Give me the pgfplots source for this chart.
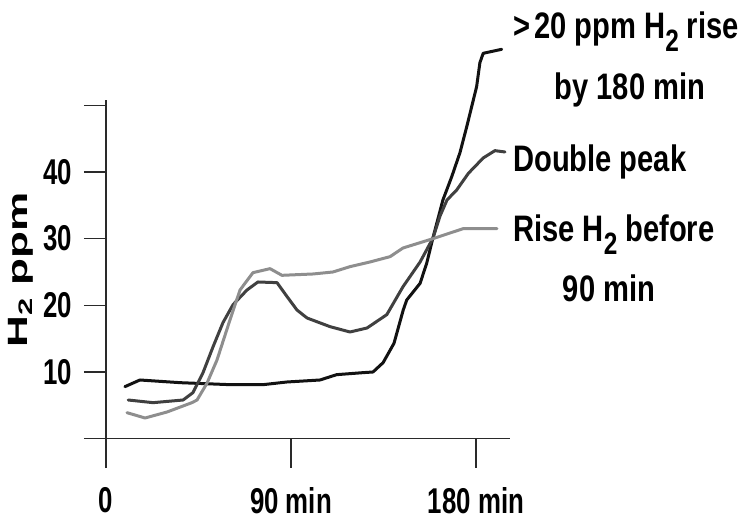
\documentclass[border=0pt]{standalone}
\usepackage{fontspec}
\usepackage{pgfplots}
\pgfplotsset{compat=1.18}
\setmainfont{Liberation Sans}
\newfontfamily\tickfont{Liberation Sans Bold}[FakeStretch=0.72]
\newfontfamily\labfont{Liberation Sans Bold}[FakeStretch=0.79]
\newfontfamily\ylabfont{Liberation Sans Bold}[FakeStretch=1.58]

\definecolor{lineA}{HTML}{121212}
\definecolor{lineB}{HTML}{404040}
\definecolor{lineC}{HTML}{8E8E8E}
\definecolor{axisgray}{HTML}{2A2A2A}

% subscript 2 as it is set in the figure: large and well below the line
\newcommand{\subtwo}{\raisebox{-13bp}{\fontsize{31}{31}\selectfont 2}}

\begin{document}
\begin{tikzpicture}
\begin{axis}[
    at={(0,0)}, anchor=south west,
    x=2.0556bp, y=6.667bp,
    xmin=-10.7, xmax=196.5,
    ymin=-4.4, ymax=50.8,
    axis lines=middle,
    axis line style={-, line width=1.6bp, color=axisgray},
    hide obscured x ticks=false,
    hide obscured y ticks=false,
    xtick={0,90,180},
    xticklabels={0,90 min,180 min},
    ytick={10,20,30,40,50},
    yticklabels={10,20,30,40,{}},
    tick align=outside,
    major tick length=22bp,
    tick style={line width=1.6bp, color=axisgray},
    xtick style={draw=none},
    xticklabel style={font=\tickfont\fontsize{36}{36}\selectfont, anchor=north, inner sep=0pt},
    yticklabel style={font=\tickfont\fontsize{36}{36}\selectfont, anchor=east, inner sep=0pt},
    xticklabel shift=27bp,
    yticklabel shift=12bp,
    ylabel={H\textsubscript{2} ppm},
    ylabel style={at={(axis cs:-38.2,25.3)}, anchor=base, rotate=90, inner sep=0pt,
        font=\ylabfont\fontsize{28}{28}\selectfont},
    clip=false,
    every axis plot/.append style={line width=3bp, line join=round, line cap=round},
]
% x ticks below the axis at 90 and 180 min
\draw[line width=1.6bp, axisgray] (axis cs:90,0) -- (axis cs:90,-4.4);
\draw[line width=1.6bp, axisgray] (axis cs:180,0) -- (axis cs:180,-4.4);

% > 20 ppm H2 rise by 180 min
\addplot[lineA] coordinates {
    (9.2,7.8) (16.5,8.8) (36.0,8.4) (60.3,8.1) (76.4,8.1) (88.0,8.5)
    (104.1,8.8) (112.2,9.6) (125.0,9.9) (129.9,10.0) (134.8,11.4)
    (140.1,14.3) (144.6,19.3) (146.3,20.8) (152.8,23.3) (156.0,26.3)
    (159.2,30.3) (163.9,35.8) (168.2,39.3) (172.2,42.9) (175.5,46.8)
    (177.9,49.8) (180.3,52.8) (181.9,56.4) (183.5,57.8) (192.5,58.4)
};
% double peak
\addplot[lineB] coordinates {
    (10.8,5.8) (22.9,5.4) (37.5,5.8) (42.3,6.9) (47.2,9.9) (52.1,13.8)
    (56.9,17.4) (61.8,20.1) (68.6,22.3) (73.9,23.5) (83.2,23.4) (88.1,21.3)
    (92.9,19.3) (97.8,18.1) (109.0,16.8) (118.7,16.0) (127.0,16.6)
    (136.6,18.6) (144.5,22.8) (152.8,26.5) (159.1,30.1) (162.5,33.4)
    (165.9,35.8) (170.6,37.3) (176.3,39.8) (183.5,42.1) (189.2,43.2)
    (194.1,43.0)
};
% rise H2 before 90 min
\addplot[lineC] coordinates {
    (10.2,3.9) (19.0,3.1) (29.7,4.0) (41.8,5.4) (44.3,5.8) (49.1,8.3)
    (54.0,11.8) (60.3,17.8) (65.2,22.3) (71.5,24.9) (79.8,25.5) (85.6,24.5)
    (100.7,24.7) (110.4,25.0) (118.7,25.8) (128.4,26.5) (138.2,27.3)
    (144.5,28.6) (159.1,30.0) (173.7,31.5) (190.2,31.5)
};
\end{axis}

\begin{scope}[every node/.style={inner sep=0pt, font=\labfont\fontsize{37}{37}\selectfont}]
\node[anchor=base west] at (429bp,429.7bp) {>\kern4bp 20 ppm H\subtwo\ rise};
\node[anchor=base] at (546bp,368bp) {by 180 min};
\node[anchor=base west] at (429bp,296.3bp) {Double peak};
\node[anchor=base west] at (429bp,226.3bp) {Rise H\subtwo\ before};
\node[anchor=base] at (525bp,166.3bp) {90 min};
\end{scope}

\pgfresetboundingbox
\path (-84bp,-51bp) rectangle (666bp,468bp);
\end{tikzpicture}
\end{document}
